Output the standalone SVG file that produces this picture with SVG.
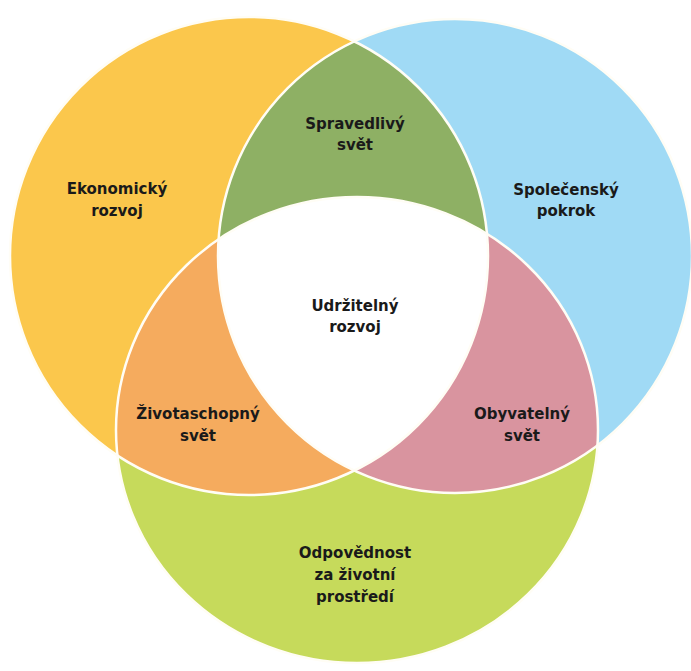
<svg xmlns="http://www.w3.org/2000/svg" width="691" height="671" viewBox="0 0 691 671">
<style>
.t{font-family:"DejaVu Sans",Verdana,sans-serif;font-weight:bold;font-size:15px;fill:#1a1a1a;text-anchor:middle}
.sep{fill:none;stroke:#fffdf5;stroke-width:2.5}
</style>
<defs>
<circle id="cL" cx="249" cy="256" r="239"/>
<circle id="cR" cx="455" cy="256" r="237"/>
<ellipse id="cB" cx="357" cy="430" rx="241" ry="233"/>
<clipPath id="clipL"><use href="#cL"/></clipPath>
<clipPath id="clipR"><use href="#cR"/></clipPath>
<clipPath id="clipB"><use href="#cB"/></clipPath>
</defs>
<rect width="691" height="671" fill="#ffffff"/>
<g id="economic"><use href="#cL" fill="#FBC74C"/></g>
<g id="social"><use href="#cR" fill="#A0DAF5"/></g>
<g id="environment"><use href="#cB" fill="#C6DA5B"/></g>
<g id="equitable" clip-path="url(#clipL)"><use href="#cR" fill="#8EB064"/></g>
<g id="viable" clip-path="url(#clipL)"><use href="#cB" fill="#F5AB5E"/></g>
<g id="bearable" clip-path="url(#clipR)"><use href="#cB" fill="#D9949F"/></g>
<g id="sustainable" clip-path="url(#clipL)"><g clip-path="url(#clipR)"><use href="#cB" fill="#ffffff"/></g></g>
<g id="connectors">
<use href="#cL" class="sep"/>
<use href="#cR" class="sep"/>
<use href="#cB" class="sep"/>
</g>
<g id="labels">
<text class="t" x="117" y="194">Ekonomický</text>
<text class="t" x="117" y="216">rozvoj</text>
<text class="t" x="355" y="129">Spravedlivý</text>
<text class="t" x="355" y="150">svět</text>
<text class="t" x="566" y="195">Společenský</text>
<text class="t" x="566" y="216">pokrok</text>
<text class="t" x="355" y="311">Udržitelný</text>
<text class="t" x="355" y="332">rozvoj</text>
<text class="t" x="198" y="419">Životaschopný</text>
<text class="t" x="198" y="441">svět</text>
<text class="t" x="522" y="419">Obyvatelný</text>
<text class="t" x="522" y="441">svět</text>
<text class="t" x="355" y="558">Odpovědnost</text>
<text class="t" x="355" y="580">za životní</text>
<text class="t" x="355" y="602">prostředí</text>
</g>
</svg>
